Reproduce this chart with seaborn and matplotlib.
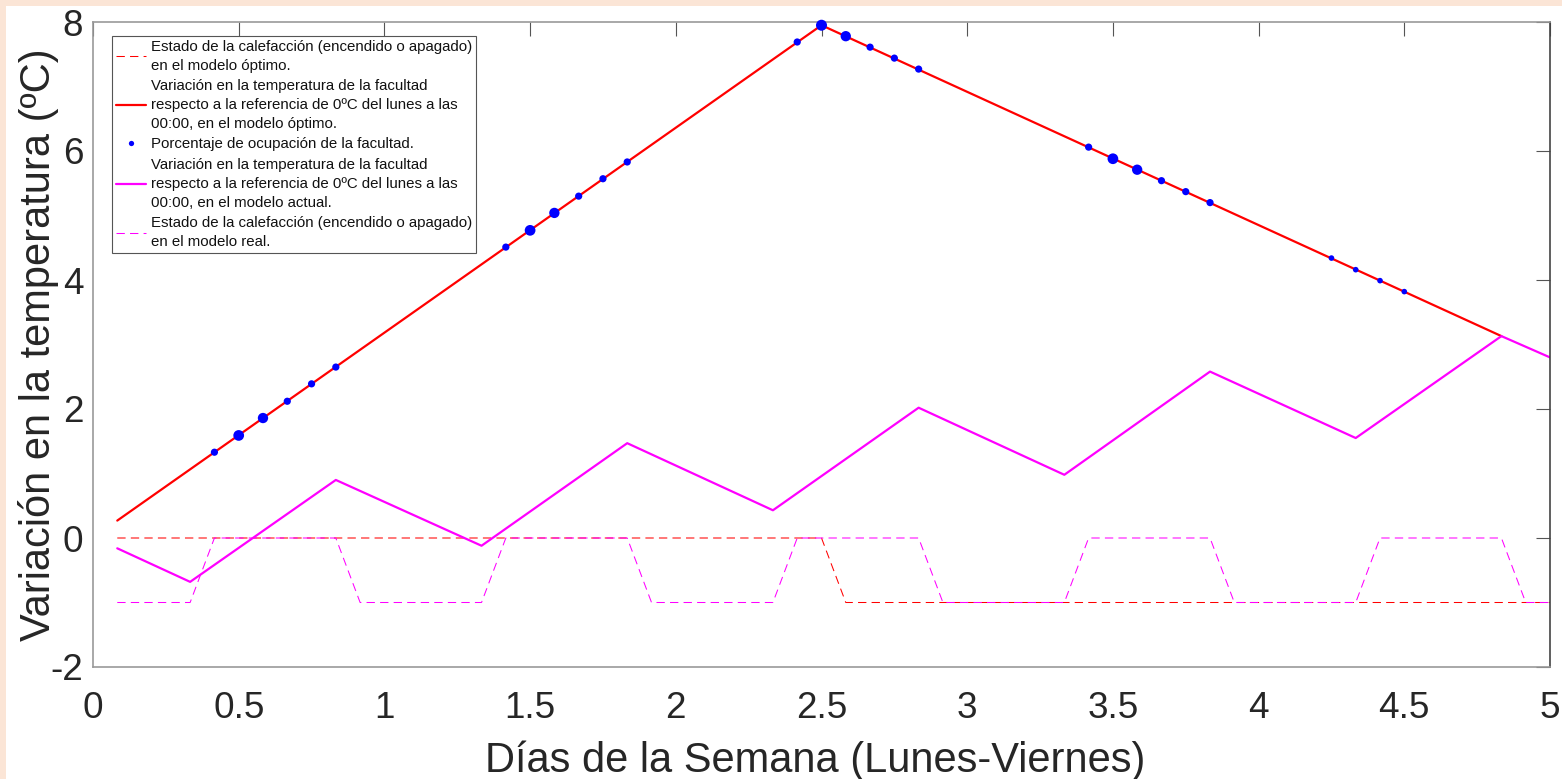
import matplotlib
matplotlib.use("Agg")
import matplotlib.pyplot as plt
from matplotlib.lines import Line2D
from matplotlib.patches import Rectangle
import seaborn as sns

# heating state, optimal model (0 = on, -1 = off), days from Monday 00:00
opt_heat_x = [0.0833, 2.5, 2.5833, 5.0]
opt_heat_y = [0, 0, -1, -1]

# temperature variation, optimal model
opt_temp_x = [0.0833, 2.5, 4.8333]
opt_temp_y = [0.27, 7.95, 3.13]

# occupation of the faculty (dots on the optimal curve)
occ_x = [0.4167, 0.5, 0.5833, 0.6667, 0.75, 0.8333,
         1.4167, 1.5, 1.5833, 1.6667, 1.75, 1.8333,
         2.4167, 2.5, 2.5833, 2.6667, 2.75, 2.8333,
         3.4167, 3.5, 3.5833, 3.6667, 3.75, 3.8333,
         4.25, 4.3333, 4.4167, 4.5]
occ_y = [1.33, 1.59, 1.86, 2.12, 2.39, 2.65,
         4.51, 4.77, 5.04, 5.30, 5.57, 5.83,
         7.69, 7.95, 7.78, 7.61, 7.44, 7.27,
         6.06, 5.88, 5.71, 5.54, 5.37, 5.20,
         4.34, 4.16, 3.99, 3.82]
occ_pct = [43, 95, 88, 43, 43, 43,
           43, 95, 88, 43, 43, 43,
           43, 100, 88, 43, 43, 43,
           43, 95, 88, 43, 43, 43,
           26, 26, 26, 26]

# temperature variation, current model
real_temp_x = [0.0833, 0.3333, 0.8333, 1.3333, 1.8333, 2.3333,
               2.8333, 3.3333, 3.8333, 4.3333, 4.8333, 5.0]
real_temp_y = [-0.16, -0.68, 0.90, -0.12, 1.47, 0.43,
               2.02, 0.98, 2.58, 1.55, 3.13, 2.80]

# heating state, real model
real_heat_x = [0.0833, 0.3333, 0.4167, 0.8333, 0.9167, 1.3333, 1.4167,
               1.8333, 1.9167, 2.3333, 2.4167, 2.8333, 2.9167, 3.3333,
               3.4167, 3.8333, 3.9167, 4.3333, 4.4167, 4.8333, 4.9167, 5.0]
real_heat_y = [-1, -1, 0, 0, -1, -1, 0, 0, -1, -1, 0,
               0, -1, -1, 0, 0, -1, -1, 0, 0, -1, -1]

x_ticks = [0, 0.5, 1, 1.5, 2, 2.5, 3, 3.5, 4, 4.5, 5]
x_tick_labels = ['0', '0.5', '1', '1.5', '2', '2.5', '3', '3.5', '4', '4.5', '5']
y_ticks = [-2, 0, 2, 4, 6, 8]
y_tick_labels = ['-2', '0', '2', '4', '6', '8']

legend_labels = [
    "Estado de la calefacción (encendido o apagado)\nen el modelo óptimo.",
    "Variación en la temperatura de la facultad\nrespecto a la referencia de 0ºC del lunes a las\n00:00, en el modelo óptimo.",
    "Porcentaje de ocupación de la facultad.",
    "Variación en la temperatura de la facultad\nrespecto a la referencia de 0ºC del lunes a las\n00:00, en el modelo actual.",
    "Estado de la calefacción (encendido o apagado)\nen el modelo real.",
]

RED = '#ff0000'
MAGENTA = '#ff00ff'
BLUE = '#0000ff'
DASH = (0, (8, 5))
TEXT = '#262626'

sns.set_style("white")
plt.rcParams['font.family'] = ['Liberation Sans', 'DejaVu Sans']
plt.rcParams['axes.unicode_minus'] = False

W, H = 1562, 779
fig = plt.figure(figsize=(W / 100, H / 100), dpi=100)
ax = fig.add_axes([93 / W, 1 - 667 / H, (1550 - 93) / W, (667 - 22) / H])

# peach strips on the left and top edge of the screenshot
fig.patches.append(Rectangle((0, 0), 6 / W, 1, transform=fig.transFigure,
                             facecolor='#fbe5d6', edgecolor='none', zorder=-1))
fig.patches.append(Rectangle((0, 1 - 6 / H), 1, 6 / H, transform=fig.transFigure,
                             facecolor='#fbe5d6', edgecolor='none', zorder=-1))

sns.lineplot(x=opt_heat_x, y=opt_heat_y, sort=False, estimator=None,
             color=RED, lw=0.75, linestyle=DASH, ax=ax)
sns.lineplot(x=opt_temp_x, y=opt_temp_y, sort=False, estimator=None,
             color=RED, lw=1.6, ax=ax)
sns.scatterplot(x=occ_x, y=occ_y, size=occ_pct, sizes=(0, 62.7),
                size_norm=(0, 100), color=BLUE, linewidth=0, legend=False,
                clip_on=False, zorder=5, ax=ax)
sns.lineplot(x=real_temp_x, y=real_temp_y, sort=False, estimator=None,
             color=MAGENTA, lw=1.6, ax=ax)
sns.lineplot(x=real_heat_x, y=real_heat_y, sort=False, estimator=None,
             color=MAGENTA, lw=0.75, linestyle=DASH, ax=ax)

ax.set_xlim(0, 5)
ax.set_ylim(-2, 8)
ax.set_xticks(x_ticks)
ax.set_xticklabels(x_tick_labels)
ax.set_yticks(y_ticks)
ax.set_yticklabels(y_tick_labels)
ax.tick_params(axis='both', direction='in', length=10, width=0.8,
               color='#555555', labelcolor=TEXT, labelsize=26.6,
               top=True, right=True)
ax.tick_params(axis='x', pad=17.5)
ax.tick_params(axis='y', pad=7)
for side in ('left', 'top', 'bottom'):
    ax.spines[side].set_color('#999999')
    ax.spines[side].set_linewidth(1.2)
ax.spines['right'].set_color('#444444')
ax.spines['right'].set_linewidth(1.2)

ax.set_xlabel("Días de la Semana (Lunes-Viernes)", fontsize=30, color=TEXT)
ax.set_ylabel("Variación en la temperatura (ºC)", fontsize=30, color=TEXT)
ax.xaxis.set_label_coords(0.496, -0.114)
ax.yaxis.set_label_coords(-0.0236, 0.5)

handles = [
    Line2D([], [], color=RED, lw=0.75, linestyle=DASH),
    Line2D([], [], color=RED, lw=1.6),
    Line2D([], [], color=BLUE, lw=0, marker='o', markersize=3.8, markeredgewidth=0),
    Line2D([], [], color=MAGENTA, lw=1.6),
    Line2D([], [], color=MAGENTA, lw=0.75, linestyle=DASH),
]
leg = ax.legend(handles, legend_labels, loc='upper left',
                bbox_to_anchor=(19 / 1457, 631 / 645), borderaxespad=0,
                fontsize=10.8, handlelength=2.0, handletextpad=0.33,
                borderpad=0.25, labelspacing=0.43, frameon=True, fancybox=False,
                framealpha=1, edgecolor='#555555')
leg.get_frame().set_linewidth(0.8)
for t in leg.get_texts():
    t.set_linespacing(1.45)
    t.set_color('#111111')

fig.savefig("out.png", dpi=100, facecolor='white')
plt.close(fig)
